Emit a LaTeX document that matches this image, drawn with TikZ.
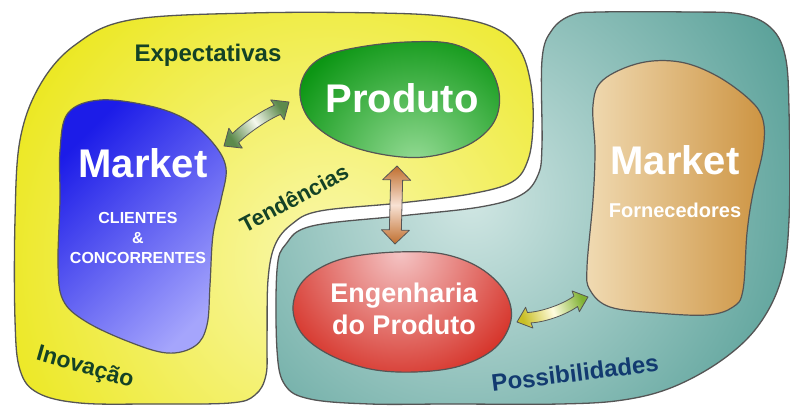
\documentclass[tikz,border=0pt]{standalone}
\usepackage{fontspec}
\setmainfont{Liberation Sans}
\usetikzlibrary{calc}
\definecolor{outl}{RGB}{85,85,85}
\definecolor{ylight}{RGB}{250,248,175}
\definecolor{ydark}{RGB}{236,232,35}
\definecolor{tlight}{RGB}{208,230,227}
\definecolor{tdark}{RGB}{88,160,152}
\definecolor{bdark}{RGB}{28,28,232}
\definecolor{blight}{RGB}{165,165,252}
\definecolor{gdark}{RGB}{12,150,20}
\definecolor{glight}{RGB}{150,220,150}
\definecolor{rlight}{RGB}{244,196,196}
\definecolor{rdark}{RGB}{214,52,42}
\definecolor{tanl}{RGB}{240,218,178}
\definecolor{tand}{RGB}{205,148,66}
\definecolor{lblgreen}{RGB}{20,66,38}
\definecolor{lblblue}{RGB}{18,58,112}
\definecolor{agreen}{RGB}{92,138,76}
\definecolor{agreenl}{RGB}{246,249,238}
\definecolor{aorange}{RGB}{192,110,46}
\definecolor{aorangel}{RGB}{248,226,212}
\definecolor{ayel}{RGB}{200,190,36}
\definecolor{ayelg}{RGB}{128,178,52}
\definecolor{ayell}{RGB}{255,252,222}

% #1 tip A, #2 tip B, #3 head length, #4 head half width, #5 shaft half width,
% #6 control offset (left side), #7 control offset (right side)
\newcommand\fatarrowpath[7]{%
 (#1)
 -- ($(#1)!#3!(#2)!#4!90:(#2)$)
 -- ($(#1)!#3!(#2)!#5!90:(#2)$)
 .. controls ($(#1)!0.35!(#2)!#6!90:(#2)$) and ($(#1)!0.65!(#2)!#6!90:(#2)$) ..
 ($(#2)!#3!(#1)!#5!-90:(#1)$)
 -- ($(#2)!#3!(#1)!#4!-90:(#1)$)
 -- (#2)
 -- ($(#2)!#3!(#1)!#4!90:(#1)$)
 -- ($(#2)!#3!(#1)!#5!90:(#1)$)
 .. controls ($(#1)!0.65!(#2)!#7!-90:(#2)$) and ($(#1)!0.35!(#2)!#7!-90:(#2)$) ..
 ($(#1)!#3!(#2)!#5!-90:(#2)$)
 -- ($(#1)!#3!(#2)!#4!-90:(#2)$)
 -- cycle}

\begin{document}
\begin{tikzpicture}[x=1pt,y=-1pt,
  region/.style={draw=outl, line width=1.3pt},
  blob/.style={draw=outl, line width=1.2pt},
  fatarrow/.style={draw=outl, line width=0.8pt, line join=round},
  bigtext/.style={text=white, font=\bfseries\fontsize{40}{48}\selectfont, inner sep=0pt},
  midtext/.style={text=white, font=\bfseries\fontsize{27}{32}\selectfont, inner sep=0pt, align=center},
  smalltext/.style={text=white, font=\bfseries\fontsize{16}{20}\selectfont, inner sep=0pt, align=center},
  forntext/.style={text=white, font=\bfseries\fontsize{20}{24}\selectfont, inner sep=0pt},
  greenlbl/.style={text=lblgreen, font=\bfseries\fontsize{23}{27}\selectfont, inner sep=0pt},
  bluelbl/.style={text=lblblue, font=\bfseries\fontsize{24}{28}\selectfont, inner sep=0pt}
]
\useasboundingbox[fill=white] (0,0) rectangle (790,405);

% yellow region
\draw[region, fill=ydark, path picture={\shade[inner color=ylight, outer color=ydark] (330,260) circle (340);}]
 plot[smooth cycle, tension=0.6] coordinates {
 (250,13) (380,13) (450,17) (495,28) (520,50) (531,85) (533,125) (528,160) (512,182)
 (470,194) (400,203) (320,211) (292,224) (275,245) (268,280) (267,340) (266,375)
 (255,395) (230,403) (150,404) (80,403) (38,393) (20,370) (15,320) (15,220)
 (20,140) (40,85) (75,45) (130,20)};

% teal region
\draw[region, fill=tdark, path picture={\shade[inner color=tlight, outer color=tdark] (470,200) circle (360);}]
 plot[smooth cycle, tension=0.6] coordinates {
 (600,12) (690,12) (740,14) (770,27) (785,55) (789,110) (789,220) (781,280)
 (758,326) (722,360) (673,387) (623,400) (560,404) (450,404) (370,404) (310,399)
 (285,385) (277,350) (277,270) (286,244) (312,226) (400,216) (480,207) (521,195)
 (538,175) (542,145) (542,60) (552,30) (572,15)};

% blue market blob
\draw[blob, top color=bdark, bottom color=blight, shading angle=45]
 plot[smooth cycle, tension=0.6] coordinates {
 (100,100) (150,106) (187,120) (213,143) (226,168) (221,200) (213,235) (210,285)
 (207,325) (195,346) (167,353) (127,341) (85,321) (63,300) (58,265) (60,200)
 (60,150) (68,113)};

% green produto blob
\draw[blob, fill=gdark, path picture={\shade[inner color=glight, outer color=gdark] (415,165) circle (140);}]
 plot[smooth cycle, tension=0.6] coordinates {
 (300,95) (306,72) (325,56) (360,47) (407,42) (453,44) (485,62) (499,92)
 (494,122) (468,145) (425,157) (380,154) (338,141) (310,120)};

% red engenharia blob
\draw[blob, fill=rdark, path picture={\shade[inner color=rlight, outer color=rdark] (400,252) circle (135);}]
 plot[smooth cycle, tension=0.6] coordinates {
 (293,310) (300,285) (320,268) (350,257) (397,252) (443,254) (480,268) (505,292)
 (511,320) (495,348) (460,366) (415,372) (370,369) (330,355) (303,335)};

% tan market blob
\draw[blob, left color=tanl, right color=tand]
 plot[smooth cycle, tension=0.6] coordinates {
 (640,63) (680,62) (717,76) (750,100) (763,120) (763,150) (753,193) (747,233)
 (743,290) (733,307) (707,315) (657,313) (610,307) (590,290) (587,267) (593,200)
 (595,150) (593,105) (603,80)};

% texts
\node[bigtext] (mkl) at (143,163) {Market};
\node[smalltext] (cli) at (138,238) {CLIENTES\\\&\\CONCORRENTES};
\node[bigtext] (prod) at (402,98) {Produto};
\node[midtext] (eng) at (404,309) {Engenharia\\do Produto};
\node[bigtext] (mkr) at (675,160) {Market};
\node[forntext] (forn) at (675,210) {Fornecedores};

\node[greenlbl, font=\bfseries\fontsize{24}{28}\selectfont, anchor=base] (exp) at (208,61.6) {Expectativas};
\node[greenlbl, font=\bfseries\fontsize{22}{26}\selectfont, rotate=28] (tend) at (294,198) {Tendências};
\node[greenlbl, rotate=-16] (inov) at (85,368) {Inovação};
\node[bluelbl, rotate=7] (poss) at (575,373) {Possibilidades};

% arrow end points
\coordinate (la) at (224,146);
\coordinate (lb) at (289,102);
\coordinate (va) at (397,166);
\coordinate (vb) at (395,244);
\coordinate (ya) at (588,297);
\coordinate (yb) at (517,322);

% arrows
\draw[fatarrow, left color=agreen, right color=agreen, middle color=agreenl, shading angle=123.7]
 \fatarrowpath{la}{lb}{14pt}{12pt}{5.5pt}{8.2pt}{2.8pt};
\draw[fatarrow, top color=aorange, bottom color=aorange, middle color=aorangel]
 \fatarrowpath{va}{vb}{14pt}{14pt}{6pt}{6pt}{6pt};
\draw[fatarrow, left color=ayel, right color=ayelg, middle color=ayell, shading angle=109]
 \fatarrowpath{ya}{yb}{13pt}{11pt}{5.5pt}{9.5pt}{1.5pt};
\end{tikzpicture}
\end{document}
